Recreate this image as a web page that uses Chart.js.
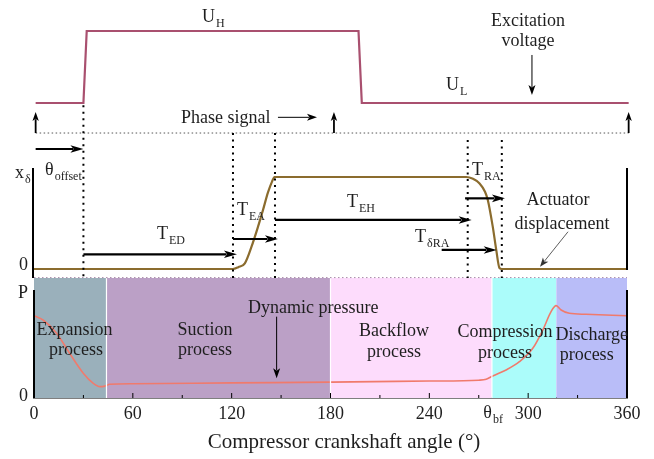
<!DOCTYPE html>
<html>
<head>
<meta charset="utf-8">
<script src="https://cdn.jsdelivr.net/npm/chart.js@4.4.1/dist/chart.umd.min.js"></script>
<style>
  html, body { margin: 0; padding: 0; background: #fff; }
  canvas { display: block; }
</style>
</head>
<body>
<canvas id="valveChart" width="654" height="459"></canvas>
<script>
// crank angle (deg) and the three signals
const voltageAngle = [1, 30, 32, 197, 199, 361];
const voltageLevel = [0, 0, 1, 1, 0, 0];

const dispAngle = [0, 120.7, 124, 128, 132, 136, 139, 142, 144.5, 146, 262.4, 266.5, 270.5, 273.8, 275.5, 278.5, 280.6, 282.6, 284, 360];
const dispLevel = [0, 0, 0.02, 0.062, 0.24, 0.46, 0.64, 0.83, 0.95, 1, 1, 0.98, 0.93, 0.84, 0.75, 0.46, 0.21, 0.01, 0, 0];

const pressAngle = [0, 5.7, 13.7, 21.8, 29.9, 36, 40, 43, 46, 60, 120, 180, 240, 270, 274.5, 278.5, 286.6, 294.7, 302.8, 308.9, 313.9, 317, 320, 325, 335, 360];
const pressLevel = [0.762, 0.72, 0.60, 0.41, 0.23, 0.136, 0.105, 0.11, 0.127, 0.132, 0.14, 0.147, 0.157, 0.165, 0.173, 0.204, 0.26, 0.336, 0.46, 0.63, 0.80, 0.855, 0.815, 0.784, 0.775, 0.762];

// process bands
const bandNames = ['Expansion', 'Suction', 'Backflow', 'Compression', 'Discharge'];
const bandEdges = [0, 44, 180, 278, 317, 360];
const bandColors = ['#9ab0bb', '#bba0c6', '#fddcfc', '#abfcfa', '#b9bdf8'];
const BAND_TOP = 1.11;

const xTicks = [0, 60, 120, 180, 240, 300, 360];
const thetaBf = 278;

const FONT = '"Liberation Serif", "Times New Roman", serif';

// keep the plot area fixed so the three panels land where they should
const AREA_TOP = 8, AREA_BOTTOM = 398;
function fitRange(px0, px1) {
    const ppu = px0 - px1;
    const min = -(AREA_BOTTOM - px0) / ppu;
    return { min: min, max: min + (AREA_BOTTOM - AREA_TOP) / ppu };
}
const rangeU = fitRange(103, 31);
const rangeX = fitRange(269, 177);
const rangeP = fitRange(398, 290);

function toPoints(xs, ys) {
    return xs.map((x, i) => ({ x: x, y: ys[i] }));
}

// annotations, x in degrees, y in the units of the given axis
const texts = [
    { t: 'U', s: 'H', x: 102, y: 1.125, ax: 'yU' },
    { t: 'U', s: 'L', x: 250.1, y: 0.181, ax: 'yU' },
    { t: 'Excitation', x: 299.9, y: 1.069, ax: 'yU', align: 'center' },
    { t: 'voltage', x: 299.9, y: 0.792, ax: 'yU', align: 'center' },
    { t: 'Phase signal', x: 89.2, y: -0.278, ax: 'yU' },
    { t: 'x', s: 'δ', x: -11.5, y: 0.989, ax: 'yX' },
    { t: 'θ', s: 'offset', x: 6.7, y: 1.022, ax: 'yX' },
    { t: '0', x: -3.6, y: -0.011, ax: 'yX', align: 'right' },
    { t: 'T', s: 'ED', x: 74.7, y: 0.326, ax: 'yX' },
    { t: 'T', s: 'EA', x: 123.2, y: 0.587, ax: 'yX' },
    { t: 'T', s: 'EH', x: 190, y: 0.677, ax: 'yX' },
    { t: 'T', s: 'RA', x: 265.9, y: 1.022, ax: 'yX' },
    { t: 'T', s: 'δRA', x: 231.3, y: 0.297, ax: 'yX' },
    { t: 'Actuator', x: 318.1, y: 0.696, ax: 'yX', align: 'center' },
    { t: 'displacement', x: 320.5, y: 0.435, ax: 'yX', align: 'center' },
    { t: 'P', x: -9.7, y: 0.926, ax: 'yP' },
    { t: '0', x: -3.6, y: -0.028, ax: 'yP', align: 'right' },
    { t: 'Dynamic pressure', x: 129.9, y: 0.787, ax: 'yP' },
    { t: 'Expansion', x: 24.6, y: 0.583, ax: 'yP', align: 'center' },
    { t: 'process', x: 25.5, y: 0.398, ax: 'yP', align: 'center' },
    { t: 'Suction', x: 103.8, y: 0.583, ax: 'yP', align: 'center' },
    { t: 'process', x: 103.8, y: 0.398, ax: 'yP', align: 'center' },
    { t: 'Backflow', x: 218.6, y: 0.574, ax: 'yP', align: 'center' },
    { t: 'process', x: 218.6, y: 0.380, ax: 'yP', align: 'center' },
    { t: 'Compression', x: 285.9, y: 0.565, ax: 'yP', align: 'center' },
    { t: 'process', x: 285.9, y: 0.370, ax: 'yP', align: 'center' },
    { t: 'Discharge', x: 338.6, y: 0.537, ax: 'yP', align: 'center' },
    { t: 'process', x: 335.5, y: 0.352, ax: 'yP', align: 'center' },
    { t: 'θ', s: 'bf', x: 272.8, y: -0.185, ax: 'yP' },
    { t: 'Compressor crankshaft angle (°)', x: 188.2, y: -0.463, ax: 'yP', align: 'center', size: 21 }
];

// arrows: [x0, y0, x1, y1, axis, style]
const arrows = [
    [302.3, 0.667, 302.3, 0.111, 'yU', 'thin'],
    [148.1, -0.199, 171.8, -0.199, 'yU', 'thin'],
    [1, -0.417, 1, -0.125, 'yU', 'up'],
    [182.1, -0.417, 182.1, -0.125, 'yU', 'up'],
    [361, -0.417, 361, -0.125, 'yU', 'up'],
    [1, -0.639, 30, -0.639, 'yU', 'bold'],
    [30, 0.160, 123.2, 0.160, 'yX', 'bold'],
    [120.8, 0.326, 148.1, 0.326, 'yX', 'bold'],
    [146.3, 0.533, 265.7, 0.533, 'yX', 'bold'],
    [261.7, 0.768, 285.9, 0.768, 'yX', 'bold'],
    [247.5, 0.207, 280.9, 0.207, 'yX', 'bold'],
    [324.2, 0.405, 307.2, 0.025, 'yX', 'hair'],
    [147.3, 0.753, 147.3, 0.182, 'yP', 'thin']
];

// dotted verticals: x, top (yU units), bottom (yP units)
const vLines = [
    [30, -0.03, BAND_TOP],
    [120.8, -0.417, BAND_TOP],
    [146.3, -0.417, BAND_TOP],
    [263.3, -0.514, BAND_TOP],
    [284, -0.514, BAND_TOP]
];

function drawLabel(ctx, x, y, item) {
    const size = item.size || 18;
    ctx.font = size + 'px ' + FONT;
    const w1 = ctx.measureText(item.t).width;
    ctx.font = '12px ' + FONT;
    const w2 = item.s ? ctx.measureText(item.s).width + 1 : 0;
    let left = x;
    if (item.align === 'center') left = x - (w1 + w2) / 2;
    if (item.align === 'right') left = x - (w1 + w2);
    ctx.fillStyle = '#1e1e1e';
    ctx.textBaseline = 'alphabetic';
    ctx.textAlign = 'left';
    ctx.font = size + 'px ' + FONT;
    ctx.fillText(item.t, left, y);
    if (item.s) {
        ctx.font = '12px ' + FONT;
        ctx.fillText(item.s, left + w1 + 1, y + 5);
    }
}

function drawArrow(ctx, x0, y0, x1, y1, style) {
    const ang = Math.atan2(y1 - y0, x1 - x0);
    let lw = 1, hl = 10, hw = 3.5, col = '#000';
    if (style === 'bold') { lw = 2.2; hl = 13; hw = 3.8; }
    if (style === 'up') { lw = 1.8; hl = 9; hw = 3.2; }
    if (style === 'hair') { lw = 0.8; hl = 9; hw = 3.5; col = '#333'; }
    ctx.strokeStyle = col;
    ctx.fillStyle = col;
    ctx.lineWidth = lw;
    ctx.setLineDash([]);
    ctx.beginPath();
    ctx.moveTo(x0, y0);
    ctx.lineTo(x1 - Math.cos(ang) * hl * 0.8, y1 - Math.sin(ang) * hl * 0.8);
    ctx.stroke();
    ctx.beginPath();
    ctx.moveTo(x1, y1);
    ctx.lineTo(x1 - Math.cos(ang) * hl - Math.sin(ang) * hw, y1 - Math.sin(ang) * hl + Math.cos(ang) * hw);
    ctx.lineTo(x1 - Math.cos(ang) * hl * 0.75, y1 - Math.sin(ang) * hl * 0.75);
    ctx.lineTo(x1 - Math.cos(ang) * hl + Math.sin(ang) * hw, y1 - Math.sin(ang) * hl - Math.cos(ang) * hw);
    ctx.closePath();
    ctx.fill();
}

const schematicPlugin = {
    id: 'schematic',
    afterDatasetsDraw(chart) {
        const ctx = chart.ctx;
        const sx = chart.scales.x;
        const px = v => sx.getPixelForValue(v);
        const py = (ax, v) => chart.scales[ax].getPixelForValue(v);
        ctx.save();

        // white seams between bands
        ctx.strokeStyle = '#fff';
        ctx.lineWidth = 1.2;
        [1, 2, 3].forEach(i => {
            ctx.beginPath();
            ctx.moveTo(px(bandEdges[i]), py('yP', BAND_TOP));
            ctx.lineTo(px(bandEdges[i]), py('yP', 0));
            ctx.stroke();
        });

        // dotted phase line and dotted band top
        ctx.lineWidth = 1;
        ctx.strokeStyle = '#555';
        ctx.setLineDash([1.5, 2.5]);
        ctx.beginPath();
        ctx.moveTo(px(1), py('yU', -0.417));
        ctx.lineTo(px(361), py('yU', -0.417));
        ctx.stroke();
        ctx.strokeStyle = '#a88aa8';
        ctx.beginPath();
        ctx.moveTo(px(0), py('yP', 1.115));
        ctx.lineTo(px(360), py('yP', 1.115));
        ctx.stroke();

        // dotted vertical markers
        ctx.strokeStyle = '#000';
        ctx.lineWidth = 2;
        ctx.setLineDash([2, 4.5]);
        vLines.forEach(v => {
            ctx.beginPath();
            ctx.moveTo(px(v[0]), py('yU', v[1]));
            ctx.lineTo(px(v[0]), py('yP', v[2]));
            ctx.stroke();
        });
        ctx.setLineDash([]);

        // panel axes
        ctx.strokeStyle = '#000';
        ctx.lineWidth = 2;
        const axLine = (x, ax, a, b) => {
            ctx.beginPath();
            ctx.moveTo(px(x), py(ax, a));
            ctx.lineTo(px(x), py(ax, b));
            ctx.stroke();
        };
        axLine(-0.6, 'yX', 1.098, -0.098);
        axLine(360, 'yX', 1.098, -0.011);
        axLine(0, 'yP', 1, 0);
        axLine(360, 'yP', 1, 0);

        // inward x ticks
        ctx.lineWidth = 1;
        for (let a = 0; a <= 360; a += 30) {
            const len = a % 60 === 0 ? 5 : 3;
            ctx.beginPath();
            ctx.moveTo(px(a), py('yP', 0));
            ctx.lineTo(px(a), py('yP', 0) - len);
            ctx.stroke();
        }

        arrows.forEach(a => {
            drawArrow(ctx, px(a[0]), py(a[4], a[1]), px(a[2]), py(a[4], a[3]), a[5]);
        });

        texts.forEach(t => drawLabel(ctx, px(t.x), py(t.ax, t.y), t));
        ctx.restore();
    }
};

const bandSets = bandNames.map((name, i) => ({
    label: name + ' process',
    data: [{ x: bandEdges[i], y: BAND_TOP }, { x: bandEdges[i + 1], y: BAND_TOP }],
    yAxisID: 'yP',
    borderWidth: 0,
    pointRadius: 0,
    backgroundColor: bandColors[i],
    fill: { value: 0 },
    order: 10
}));

new Chart(document.getElementById('valveChart'), {
    type: 'line',
    data: {
        datasets: [
            {
                label: 'Excitation voltage',
                data: toPoints(voltageAngle, voltageLevel),
                yAxisID: 'yU',
                borderColor: '#a9506f',
                borderWidth: 2.2,
                pointRadius: 0,
                tension: 0,
                clip: false,
                order: 1
            },
            {
                label: 'Actuator displacement',
                data: toPoints(dispAngle, dispLevel),
                yAxisID: 'yX',
                borderColor: '#8b6c2e',
                borderWidth: 2.2,
                pointRadius: 0,
                cubicInterpolationMode: 'monotone',
                order: 1
            },
            {
                label: 'Dynamic pressure',
                data: toPoints(pressAngle, pressLevel),
                yAxisID: 'yP',
                borderColor: '#f07a6c',
                borderWidth: 1.6,
                pointRadius: 0,
                cubicInterpolationMode: 'monotone',
                order: 1
            }
        ].concat(bandSets)
    },
    options: {
        responsive: false,
        devicePixelRatio: 1,
        animation: false,
        layout: { padding: { left: 34, right: 27, top: AREA_TOP, bottom: 5 } },
        plugins: {
            legend: { display: false },
            tooltip: { enabled: false }
        },
        scales: {
            x: {
                type: 'linear',
                min: 0,
                max: 360,
                afterBuildTicks: s => { s.ticks = xTicks.map(v => ({ value: v })); },
                afterFit: s => { s.height = 56; },
                ticks: {
                    color: '#1e1e1e',
                    padding: 5,
                    font: { family: FONT, size: 18 }
                },
                grid: { display: false, drawTicks: false },
                border: { color: '#000', width: 1.5 }
            },
            yU: { display: false, min: rangeU.min, max: rangeU.max },
            yX: { display: false, min: rangeX.min, max: rangeX.max },
            yP: { display: false, min: rangeP.min, max: rangeP.max }
        }
    },
    plugins: [schematicPlugin]
});
</script>
</body>
</html>
